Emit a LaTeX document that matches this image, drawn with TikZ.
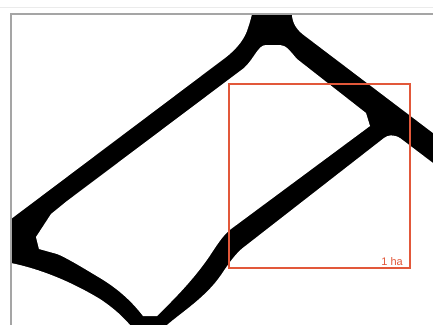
\documentclass[tikz,border=0pt]{standalone}
\usepackage{fontspec}
\newfontfamily\labelfont{Liberation Sans}
\definecolor{hared}{RGB}{226,88,58}
\definecolor{framegray}{RGB}{165,165,165}
\begin{document}
\begin{tikzpicture}[x=1pt,y=-1pt,
  cell/.style={fill=white,draw=none},
  framing/.style={draw=framegray,line width=1.4pt},
  hectare/.style={draw=hared,line width=1.5pt}]
\useasboundingbox (0,0) rectangle (433,325);
\fill[white] (0,0) rectangle (433,325);
% faint top line
\draw[black!8,line width=1pt] (0,7) -- (433,7);
% black field inside the frame
\fill[black] (11,14) rectangle (433,325);
% cell A (top left)
\path[cell] (11,14) -- (252,14)
  .. controls (251,18) and (250,22) .. (248,28)
  .. controls (245,38) and (238,48) .. (225,58)
  -- (11,219) -- cycle;
% cell B (top right)
\path[cell] (292,14) -- (433,14) -- (433,133) -- (305,36)
  .. controls (298,31) and (292,24) .. (292,14) -- cycle;
% cell C (central)
\path[cell] (36,237) -- (51,214) -- (67,201) -- (244,68)
  .. controls (254,59) and (258,45) .. (266,45) -- (280,45)
  .. controls (286,45) and (290,51) .. (297,59)
  -- (366,113) -- (370,126) -- (231,229)
  .. controls (223,235) and (217,245) .. (209,257)
  .. controls (191,283) and (170,303) .. (157,316)
  -- (143,316)
  .. controls (130,299) and (115,287) .. (100,278)
  .. controls (80,266) and (65,257) .. (57,254)
  -- (39,249) -- cycle;
% cell D (lower right)
\path[cell] (433,163) -- (400,138) .. controls (393,134) and (388,135) .. (384,138)
  -- (244,247) .. controls (236,253) and (229,263) .. (221,275)
  .. controls (206,297) and (182,312) .. (167,325)
  -- (433,325) -- cycle;
% cell E (lower left)
\path[cell] (11,263) .. controls (40,269) and (70,281) .. (100,299)
  .. controls (115,309) and (124,318) .. (130,325) -- (11,325) -- cycle;
% frame
\draw[framing] (433,14) -- (11,14) -- (11,325);
% one hectare square
\draw[hectare] (229,84) rectangle (410,268);
\node[anchor=base east,inner sep=0pt,text=hared,font=\labelfont\fontsize{11}{11}\selectfont] (lbl) at (403,265.5) {1 ha};
\end{tikzpicture}
\end{document}
